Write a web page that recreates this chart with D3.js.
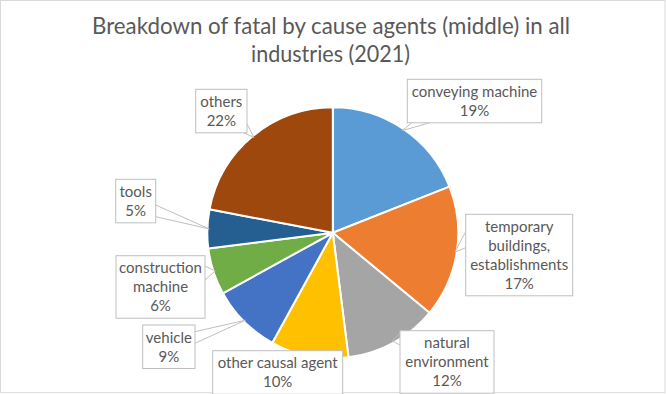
<!DOCTYPE html>
<html>
<head>
<meta charset="utf-8">
<script src="https://cdn.jsdelivr.net/npm/d3@7"></script>
<style>
  html, body { margin: 0; padding: 0; background: #fff; }
  svg { display: block; }
  text { font-family: Lato, "Open Sans", sans-serif; fill: #595959; }
</style>
</head>
<body>
<script>
// ---- data ----
const categories = ["conveying machine", "temporary buildings, establishments", "natural environment",
  "other causal agent", "vehicle", "construction machine", "tools", "others"];
const values = [19, 17, 12, 10, 9, 6, 5, 22];
const labelLines = [
  ["conveying machine"],
  ["temporary", "buildings,", "establishments"],
  ["natural", "environment"],
  ["other causal agent"],
  ["vehicle"],
  ["construction", "machine"],
  ["tools"],
  ["others"]
];
const colors = ["#5B9BD5", "#ED7D31", "#A5A5A5", "#FFC000", "#4472C4", "#70AD47", "#255E91", "#9E480E"];
const titleLines = ["Breakdown of fatal by cause agents (middle) in all", "industries (2021)"];

// ---- layout (label callout boxes: left, top, width; wedge base points) ----
const W = 666, H = 394;
const cx = 332.8, cy = 232.8, R = 125.5;
const lineH = 19;
const boxLayout = [
  {x: 407.3, y: 79.3, w: 134.4, base: [[412, 122.7], [430, 122.7]]},
  {x: 465.7, y: 214.3, w: 107, base: [[465.7, 231.7], [465.7, 247.7]]},
  {x: 400, y: 330.7, w: 94, base: [[400, 333], [400, 345]]},
  {x: 212.7, y: 350.7, w: 130, base: null},
  {x: 142.7, y: 325, w: 52.3, base: [[195, 331.7], [195, 343.3]]},
  {x: 116, y: 255.7, w: 89, base: [[205, 266], [205, 280]]},
  {x: 115.7, y: 179.3, w: 40, base: [[155.7, 205], [155.7, 216.7]]},
  {x: 195.7, y: 89.3, w: 51.3, base: [[247, 124], [243, 132.3]]}
];

const svg = d3.select("body").append("svg").attr("width", W).attr("height", H);

// chart border
svg.append("rect").attr("x", 0.5).attr("y", 0.5).attr("width", W - 1.5).attr("height", H - 1.8)
  .attr("fill", "#fff").attr("stroke", "#d9d9d9").attr("stroke-width", 1);

// title
const title = svg.append("text").attr("text-anchor", "middle").style("font-size", "23px");
title.append("tspan").attr("x", 331).attr("y", 34.3).attr("textLength", 478).attr("lengthAdjust", "spacingAndGlyphs").text(titleLines[0]);
title.append("tspan").attr("x", 330.5).attr("y", 61.7).attr("textLength", 159).attr("lengthAdjust", "spacingAndGlyphs").text(titleLines[1]);

// pie
const data = categories.map((c, i) => ({cat: c, value: values[i], i}));
const pie = d3.pie().sort(null).value(d => d.value).startAngle(0).endAngle(2 * Math.PI);
const arcs = pie(data);
const arc = d3.arc().innerRadius(0).outerRadius(R);
const g = svg.append("g").attr("transform", `translate(${cx},${cy})`);
g.selectAll("path").data(arcs).join("path")
  .attr("d", arc)
  .attr("fill", d => colors[d.data.i])
  .attr("stroke", "#fff").attr("stroke-width", 2).attr("stroke-linejoin", "round");

// leader wedges
const edgeArc = d3.arc().innerRadius(R * 0.985).outerRadius(R * 0.985);
arcs.forEach(a => {
  const L = boxLayout[a.data.i];
  if (!L.base) return;
  const [px, py] = edgeArc.centroid(a);
  const apex = [cx + px, cy + py];
  svg.append("polyline")
    .attr("points", [L.base[0], apex, L.base[1]].map(p => p.join(",")).join(" "))
    .attr("fill", "none").attr("stroke", "#bfbfbf").attr("stroke-width", 1);
});

// label boxes
arcs.forEach(a => {
  const i = a.data.i;
  const L = boxLayout[i];
  const lines = labelLines[i].concat([d3.format(".0f")(a.data.value) + "%"]);
  const h = lines.length * lineH + 5.5;
  svg.append("rect").attr("x", L.x).attr("y", L.y).attr("width", L.w).attr("height", h)
    .attr("fill", "#fff").attr("stroke", "#bfbfbf").attr("stroke-width", 1);
  const t = svg.append("text").attr("text-anchor", "middle").style("font-size", "15px");
  lines.forEach((ln, k) => {
    t.append("tspan").attr("x", L.x + L.w / 2).attr("y", L.y + 17.5 + k * lineH).text(ln);
  });
});
</script>
</body>
</html>
